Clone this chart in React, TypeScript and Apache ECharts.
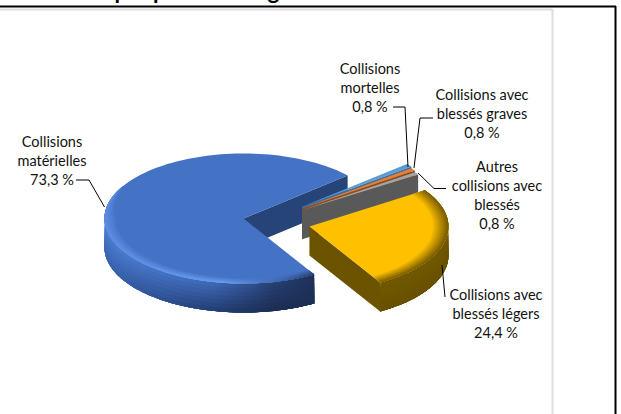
import React, { useEffect, useRef } from "react";
import * as echarts from "echarts";

const categories = [
  "Collisions\nmatérielles",
  "Collisions\nmortelles",
  "Collisions avec\nblessés graves",
  "Autres\ncollisions avec\nblessés",
  "Collisions avec\nblessés légers",
];
const values = [73.3, 0.8, 0.8, 0.8, 24.4];
const titleText = "Graphique 1 - Catégories de collisions";

const total = values.reduce((a, b) => a + b, 0);
const START = 148.4;
const CX = 243.5;
const CY = 218.5;
const RX = 139;
const RY = 65;
const DEPTH = 29;
const EXPLODE = 0.49;
const FONT = "Lato, Carlito, sans-serif";

type Stop = [number, string];
type Look = {
  top: string;
  face: string;
  exploded: boolean;
  liftY?: number;
  shiftY?: number;
  midNudge?: number;
  nudge0?: number;
  nudge1?: number;
  rimWidth?: number;
  rimTo?: number;
  rim?: Stop[];
  wallTop?: Stop[];
  wallBottom?: Stop[];
};
const looks: Look[] = [
  {
    top: "#4472C4",
    face: "#264478",
    exploded: false,
    nudge0: 1,
    nudge1: -3.5,
    rimWidth: 0.085,
    rimTo: 300,
    rim: [[0, "#5b8ce4"], [0.55, "#689cf0"], [0.82, "#3c64ad"], [1, "#1f3359"]],
    wallTop: [[0, "#4a7bcf"], [0.5, "#3d67b4"], [0.78, "#263f72"], [1, "#1c2e54"]],
    wallBottom: [[0, "#3a65b2"], [0.45, "#243f76"], [0.75, "#1b2d53"], [1, "#1c2f55"]],
  },
  { top: "#5B9BD5", face: "#3d6f9e", exploded: true, liftY: 0.25, midNudge: 5.76, shiftY: -3.5, nudge0: -3, nudge1: -3 },
  { top: "#ED7D31", face: "#8c4a1d", exploded: true, liftY: 0.25, midNudge: 2.88, shiftY: -1.7, nudge0: -3, nudge1: -3.5 },
  { top: "#A5A5A5", face: "#595959", exploded: true, liftY: 0.25, nudge0: -3.5, nudge1: -4 },
  {
    top: "#FFC000",
    face: "#6b5300",
    exploded: true,
    nudge0: -4.5,
    nudge1: 1,
    rimWidth: 0.11,
    rim: [[0, "#8a6a00"], [1, "#7c5f00"]],
    wallTop: [[0, "#715700"], [1, "#715700"]],
    wallBottom: [[0, "#675000"], [1, "#675000"]],
  },
];

type Pt = [number, number];
const rad = (d: number) => (d * Math.PI) / 180;
const pt = (cx: number, cy: number, d: number, r: number, dz = 0): Pt => [
  cx + r * RX * Math.sin(rad(d)),
  cy - r * RY * Math.cos(rad(d)) + dz,
];
const arc = (cx: number, cy: number, a: number, b: number, r: (d: number) => number, dz = 0): Pt[] => {
  const n = Math.max(2, Math.ceil(Math.abs(b - a) / 2));
  const out: Pt[] = [];
  for (let i = 0; i <= n; i++) {
    const d = a + ((b - a) * i) / n;
    out.push(pt(cx, cy, d, r(d), dz));
  }
  return out;
};
const hex = (c: string) => [1, 3, 5].map((i) => parseInt(c.slice(i, i + 2), 16));
const mix = (a: string, b: string, t: number) => {
  const x = hex(a);
  const y = hex(b);
  return "rgb(" + x.map((v, i) => Math.round(v + (y[i] - v) * t)).join(",") + ")";
};
const grad = (x0: number, x1: number, stops: { offset: number; color: string }[]) =>
  new echarts.graphic.LinearGradient(x0, 0, x1, 0, stops, true);

const renderItem = (params: any, api: any) => {
  const i = params.dataIndex;
  const v = api.value(0);
  const before = values.slice(0, i).reduce((a, b) => a + b, 0);
  const rawA0 = START + (before / total) * 360;
  const rawA1 = rawA0 + (v / total) * 360;
  const look = looks[i];
  const mid = (rawA0 + rawA1) / 2 + (look.midNudge || 0);
  const a0 = rawA0 + (look.nudge0 || 0);
  const a1 = rawA1 + (look.nudge1 || 0);
  const cx = CX + (look.exploded ? EXPLODE * RX * Math.sin(rad(mid)) : 0);
  const cy = CY - (look.exploded ? (look.liftY ?? EXPLODE) * RY * Math.cos(rad(mid)) : 0) + (look.shiftY || 0);
  const one = () => 1;
  const children: any[] = [];
  const poly = (points: Pt[], fill: any) =>
    children.push({ type: "polygon", shape: { points }, style: { fill } });

  // outer wall: only the part that faces the viewer, 90..270 clockwise from the top
  const wallRanges: [number, number][] = [];
  for (const k of [0, 360]) {
    const s = Math.max(a0, 90 + k);
    const e = Math.min(a1, 270 + k);
    if (e > s) wallRanges.push([s, e]);
  }
  const x0 = cx - RX;
  const x1 = i === 0 ? CX + 78 : cx + RX;
  if (look.wallTop && look.wallBottom) {
    const steps = 7;
    for (const [s, e] of wallRanges) {
      for (let k = 0; k < steps; k++) {
        const t = k / (steps - 1);
        const dz = (DEPTH * k) / steps;
        const stops = look.wallTop.map(([o, c], m) => ({
          offset: o,
          color: mix(c, look.wallBottom![m][1], t),
        }));
        poly([...arc(cx, cy, s, e, one, dz), ...arc(cx, cy, e, s, one, DEPTH)], grad(x0, x1, stops));
      }
    }
  }

  // cut faces that look to the viewer
  const face = (d: number) => {
    const p = pt(cx, cy, d, 1);
    poly([[cx, cy], p, [p[0], p[1] + DEPTH], [cx, cy + DEPTH]], look.face);
  };
  if (Math.sin(rad(a0)) < 0) face(a0);
  if (Math.sin(rad(a1)) > 0) face(a1);

  // top
  poly([[cx, cy], ...arc(cx, cy, a0, a1, one)], look.top);

  // bevel: nested rings, painted from the widest to the narrowest
  if (look.rim && look.rimWidth) {
    const rimWidth = look.rimWidth;
    const rim = look.rim;
    const from = a0;
    const to = look.rimTo ? Math.min(a1, look.rimTo) : a1;
    const taper = (d: number) =>
      look.rimTo ? Math.min(1, Math.max(0, (look.rimTo - d) / 30)) : 1;
    const steps = 8;
    for (let k = 0; k < steps; k++) {
      const inner = 1 - (1 - k / steps) * rimWidth;
      const t = (k + 1) / steps;
      const r = (d: number) => 1 - (1 - inner) * taper(d);
      const stops = rim.map(([o, c]) => ({ offset: o, color: mix(look.top, c, t) }));
      poly([...arc(cx, cy, from, to, one), ...arc(cx, cy, to, from, r)], grad(x0, x1, stops));
    }
  }
  return { type: "group", children };
};

const labelPlaces: { x: number; y: number }[] = [
  { x: 52, y: 160 },
  { x: 370, y: 87 },
  { x: 482, y: 113 },
  { x: 497, y: 195 },
  { x: 496, y: 313 },
];
const leaders: Pt[][] = [
  [[76, 180], [89, 180], [104.5, 207]],
  [[393, 107], [405, 107], [408, 167]],
  [[433, 118], [420, 118], [414, 168]],
  [[418, 173], [434, 188.5], [446, 188.5]],
  [[442, 265], [445, 297]],
];
const pct = (v: number) => v.toFixed(1).replace(".", ",") + " %";

export default function App() {
  const ref = useRef<HTMLDivElement>(null);
  useEffect(() => {
    document.body.style.margin = "0";
    const chart = echarts.init(ref.current!, undefined, { renderer: "svg" });
    const frame = (x1: number, y1: number, x2: number, y2: number, stroke: string, lineWidth: number) => ({
      type: "line",
      shape: { x1, y1, x2, y2 },
      style: { stroke, lineWidth },
    });
    chart.setOption({
      animation: false,
      backgroundColor: "#ffffff",
      graphic: [
        frame(0, 9.5, 552, 9.5, "#dddddd", 2),
        frame(552.5, 9, 552.5, 414, "#dddddd", 2),
        frame(0, 6.5, 616, 6.5, "#000000", 2),
        frame(615.5, 6, 615.5, 414, "#000000", 2),
        {
          type: "text",
          x: 267,
          y: 2,
          style: {
            text: titleText,
            fill: "#000000",
            font: `bold 22.5px ${FONT}`,
            textAlign: "center",
            textVerticalAlign: "bottom",
          },
        },
        ...leaders.map((points) => ({
          type: "polyline",
          z: 10,
          shape: { points },
          style: { stroke: "#000000", lineWidth: 1, fill: "none" },
        })),
        ...categories.map((c, i) => ({
          type: "text",
          z: 10,
          x: labelPlaces[i].x,
          y: labelPlaces[i].y,
          style: {
            text: `${c}\n${pct(values[i])}`,
            fill: "#111111",
            font: `14.5px ${FONT}`,
            lineHeight: 19,
            textAlign: "center",
            textVerticalAlign: "middle",
          },
        })),
      ],
      series: [
        {
          type: "custom",
          coordinateSystem: "none",
          silent: true,
          clip: false,
          renderItem,
          data: values.map((v) => [v]),
        },
      ],
    });
    return () => chart.dispose();
  }, []);
  return <div ref={ref} style={{ width: 621, height: 414 }} />;
}
